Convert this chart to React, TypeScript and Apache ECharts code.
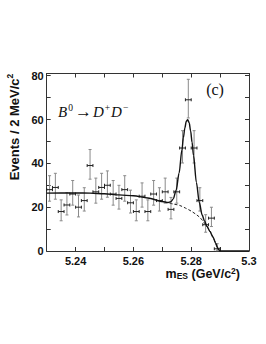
import React, { useEffect, useRef } from "react";
import * as echarts from "echarts";

// Bin centres (GeV/c^2) and event counts per 2 MeV bin
const binCenters = [
  5.231, 5.233, 5.235, 5.237, 5.239, 5.241, 5.243, 5.245, 5.247, 5.249,
  5.251, 5.253, 5.255, 5.257, 5.259, 5.261, 5.263, 5.265, 5.267, 5.269,
  5.271, 5.273, 5.275, 5.277, 5.279, 5.281, 5.283, 5.285, 5.287, 5.289,
];
const counts = [
  28, 29, 18, 21, 26, 20, 23, 39, 27, 29,
  30, 26, 24, 28, 22, 18, 25, 18, 26, 23,
  27, 19, 27, 47, 69, 47, 23, 12, 15, 1,
];

// Total fit curve
const fitX = [
  5.23, 5.235, 5.24, 5.245, 5.25, 5.255, 5.26, 5.265, 5.27, 5.272, 5.273,
  5.2738, 5.2748, 5.2758, 5.2768, 5.2773, 5.2778, 5.2783, 5.2788, 5.2793,
  5.2798, 5.2803, 5.2808, 5.2818, 5.2828, 5.2838, 5.2846, 5.2855, 5.2865,
  5.2875, 5.2885, 5.289, 5.2895, 5.29, 5.3,
];
const fitY = [
  26.4, 26.5, 26.5, 26.4, 26.1, 25.6, 25.2, 24.2, 22.6, 22.1, 22.5,
  23.8, 27.8, 35.5, 46.2, 51.7, 56.2, 59.2, 59.9, 58.5,
  54.8, 49.6, 43.5, 31.3, 22.1, 16.4, 13.7, 11.2, 8.9,
  6.4, 3.5, 1.8, 0.6, 0, 0,
];

// Background (dashed) under the peak
const bgX = [
  5.2725, 5.274, 5.276, 5.278, 5.28, 5.282, 5.283, 5.284, 5.285, 5.286,
  5.287, 5.288, 5.2885, 5.289, 5.2895, 5.29,
];
const bgY = [
  21.8, 21.4, 20.8, 19.6, 18.2, 16.4, 15.3, 13.8, 12.0, 10.0,
  7.8, 5.0, 3.5, 1.8, 0.6, 0,
];

const xTickLabels = ["5.24", "5.26", "5.28", "5.3"];
const yTickLabels = ["0", "20", "40", "60", "80"];

const SANS = '"Liberation Sans", Arial, Helvetica, sans-serif';
const SERIF = '"Liberation Serif", "Times New Roman", serif';

export default function App() {
  const ref = useRef<HTMLDivElement>(null);

  useEffect(() => {
    if (!ref.current) return;
    const chart = echarts.init(ref.current, null, { renderer: "svg" });

    const pointData = counts.map((n, i) => [
      binCenters[i],
      n,
      n - Math.sqrt(Math.max(n - 0.25, 0)),
      n + Math.sqrt(n + 0.75) + 1,
    ]);

    const axisColor = "#333";
    const xFmt = (v: number) => {
      const s = String(+v.toFixed(2));
      return xTickLabels.includes(s) ? s : "";
    };
    const yFmt = (v: number) => {
      const s = String(Math.round(v));
      return Math.abs(v - Math.round(v)) < 1e-6 && yTickLabels.includes(s) ? s : "";
    };

    const xBase = {
      type: "value",
      min: 5.23,
      max: 5.3,
      interval: 0.01,
      splitLine: { show: false },
      axisLine: { show: true, onZero: false, lineStyle: { color: axisColor, width: 1 } },
      axisTick: { show: true, inside: true, length: 4, lineStyle: { color: axisColor } },
    };
    const yBase = {
      type: "value",
      min: 0,
      max: 81,
      interval: 10,
      splitLine: { show: false },
      axisLine: { show: true, onZero: false, lineStyle: { color: axisColor, width: 1 } },
      axisTick: { show: true, inside: true, length: 4, lineStyle: { color: axisColor } },
    };

    const option: any = {
      animation: false,
      grid: { left: 46.7, right: 17, top: 73.5, bottom: 93 },
      xAxis: [
        {
          ...xBase,
          position: "bottom",
          axisLabel: {
            formatter: xFmt,
            color: "#111",
            fontSize: 11,
            lineHeight: 11,
            fontWeight: "bold",
            fontFamily: SANS,
            margin: 4,
            showMinLabel: true,
            showMaxLabel: true,
          },
        },
        { ...xBase, position: "top", axisLabel: { show: false } },
      ],
      yAxis: [
        {
          ...yBase,
          position: "left",
          axisLabel: {
            formatter: yFmt,
            color: "#111",
            fontSize: 11,
            fontWeight: "bold",
            fontFamily: SANS,
            margin: 3,
          },
        },
        { ...yBase, position: "right", axisLabel: { show: false } },
      ],
      series: [
        {
          type: "custom",
          xAxisIndex: 0,
          yAxisIndex: 0,
          data: pointData,
          encode: { x: 0, y: 1 },
          renderItem: (params: any, api: any) => {
            const x = api.value(0);
            const y = api.value(1);
            const lo = api.value(2);
            const hi = api.value(3);
            const c = api.coord([x, y]);
            const pl = api.coord([x, lo]);
            const ph = api.coord([x, hi]);
            const xl = api.coord([x - 0.001, y])[0];
            const xr = api.coord([x + 0.001, y])[0];
            const grey = { stroke: "#8a8a8a", lineWidth: 1 };
            const dark = { stroke: "#222", lineWidth: 1 };
            return {
              type: "group",
              children: [
                { type: "line", shape: { x1: c[0], y1: pl[1], x2: c[0], y2: ph[1] }, style: grey },
                { type: "line", shape: { x1: c[0] - 1.5, y1: pl[1], x2: c[0] + 1.5, y2: pl[1] }, style: grey },
                { type: "line", shape: { x1: c[0] - 1.5, y1: ph[1], x2: c[0] + 1.5, y2: ph[1] }, style: grey },
                { type: "line", shape: { x1: xl, y1: c[1], x2: xr, y2: c[1] }, style: dark },
                { type: "line", shape: { x1: xl, y1: c[1] - 1.5, x2: xl, y2: c[1] + 1.5 }, style: dark },
                { type: "line", shape: { x1: xr, y1: c[1] - 1.5, x2: xr, y2: c[1] + 1.5 }, style: dark },
              ],
            };
          },
          z: 2,
        },
        {
          type: "line",
          data: bgX.map((x, i) => [x, bgY[i]]),
          showSymbol: false,
          smooth: 0.3,
          lineStyle: { color: "#222", width: 1, type: [3, 2] },
          z: 3,
        },
        {
          type: "line",
          data: fitX.map((x, i) => [x, fitY[i]]),
          showSymbol: false,
          smooth: 0.3,
          smoothMonotone: "x",
          lineStyle: { color: "#111", width: 1.4 },
          z: 4,
        },
      ],
      graphic: [
        {
          type: "text",
          x: 13,
          y: 127,
          rotation: Math.PI / 2,
          style: {
            text: "{a|Events / 2 MeV/c}{s|2}",
            align: "center",
            verticalAlign: "middle",
            fill: "#111",
            rich: {
              a: { fontSize: 13, fontWeight: "bold", fontFamily: SANS, lineHeight: 15, verticalAlign: "bottom", fill: "#111" },
              s: { fontSize: 8.5, fontWeight: "bold", fontFamily: SANS, lineHeight: 9, verticalAlign: "top", fill: "#111" },
            },
          },
        },
        {
          type: "text",
          x: 240,
          y: 273.5,
          style: {
            text: "{a|m}{b|ES}{a| (GeV/c}{s|2}{a|)}",
            align: "right",
            verticalAlign: "middle",
            fill: "#111",
            rich: {
              a: { fontSize: 12.5, fontWeight: "bold", fontFamily: SANS, lineHeight: 14, verticalAlign: "middle", fill: "#111" },
              b: { fontSize: 8.5, fontWeight: "bold", fontFamily: SANS, lineHeight: 8, verticalAlign: "bottom", fill: "#111" },
              s: { fontSize: 8.5, fontWeight: "bold", fontFamily: SANS, lineHeight: 8, verticalAlign: "top", fill: "#111" },
            },
          },
        },
        {
          type: "text",
          x: 58,
          y: 111,
          style: {
            text: "{i|B}{s|0}{r|→}{i|D}{s|+}{i|D}{s|−}",
            align: "left",
            verticalAlign: "middle",
            fill: "#111",
            rich: {
              i: { fontSize: 15, fontStyle: "italic", fontFamily: SERIF, lineHeight: 17, verticalAlign: "bottom", fill: "#111" },
              s: { fontSize: 9.5, fontFamily: SERIF, lineHeight: 10, verticalAlign: "top", fill: "#111", padding: [0, 1, 0, 1] },
              r: { fontSize: 17, fontFamily: SERIF, lineHeight: 17, verticalAlign: "bottom", fill: "#111", padding: [0, 1, 0, 1] },
            },
          },
        },
        {
          type: "text",
          x: 215,
          y: 89.5,
          style: {
            text: "(c)",
            align: "center",
            verticalAlign: "middle",
            fill: "#111",
            fontSize: 16,
            fontFamily: SERIF,
          },
        },
      ],
    };

    chart.setOption(option);
    return () => chart.dispose();
  }, []);

  return (
    <div
      ref={ref}
      style={{ position: "fixed", left: 0, top: 0, width: 266, height: 344, background: "#fff" }}
    />
  );
}
